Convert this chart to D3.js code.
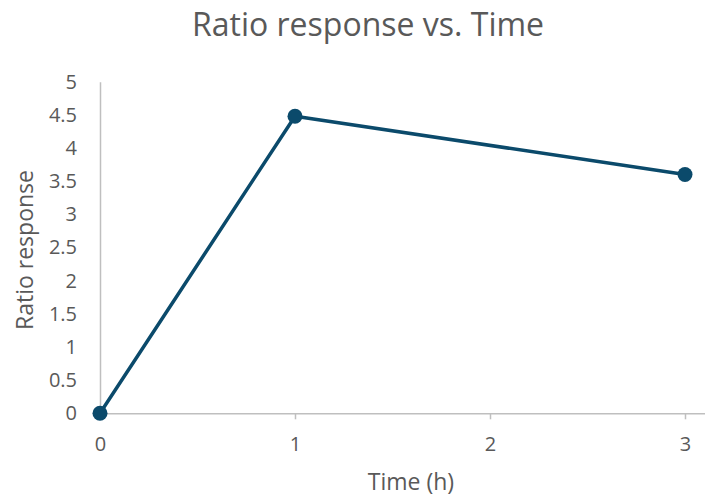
<!DOCTYPE html>
<html>
<head>
<meta charset="utf-8">
<script src="https://cdn.jsdelivr.net/npm/d3@7"></script>
<style>
  body { margin: 0; background: #fff; }
  text { font-family: "Open Sans", sans-serif; fill: #595959; }
</style>
</head>
<body>
<script>
(function() {

  // data
  var times = [0, 1, 3];
  var ratios = [0, 4.48, 3.6];
  var xTicks = [0, 1, 2, 3];
  var yTicks = [0, 0.5, 1, 1.5, 2, 2.5, 3, 3.5, 4, 4.5, 5];

  var width = 705;
  var height = 496;
  var lineColor = '#0b4a6b';
  var axisColor = '#bfbfbf';

  var svg = d3.select('body')
    .append('svg')
      .attr('width', width)
      .attr('height', height);

  var x = d3.scaleLinear().domain([0, 3.1]).range([100, 704.5]);
  var y = d3.scaleLinear().domain([0, 5]).range([413.3, 81.7]);

  // title
  svg.append('text')
    .attr('x', 368)
    .attr('y', 36)
    .attr('text-anchor', 'middle')
    .style('font-size', '32px')
    .text('Ratio response vs. Time');

  // y axis: line + labels, no tick marks
  var yAxis = svg.append('g')
    .attr('transform', 'translate(' + x(0) + ',0)')
    .call(d3.axisLeft(y).tickValues(yTicks).tickSize(0).tickPadding(23)
      .tickFormat(d3.format('')));
  yAxis.select('.domain').attr('stroke', axisColor).attr('stroke-width', 1.5);
  yAxis.selectAll('text').style('font-size', '20px').attr('fill', '#595959');

  // x axis with small tick marks below
  var xAxis = svg.append('g')
    .attr('transform', 'translate(0,' + y(0) + ')')
    .call(d3.axisBottom(x).tickValues(xTicks).tickSize(6).tickSizeOuter(0).tickPadding(18)
      .tickFormat(d3.format('d')));
  xAxis.select('.domain').attr('stroke', axisColor).attr('stroke-width', 1.5);
  xAxis.selectAll('.tick line').attr('stroke', axisColor).attr('stroke-width', 1.5);
  xAxis.selectAll('text').style('font-size', '20px').attr('fill', '#595959');

  // axis titles
  svg.append('text')
    .attr('x', 411)
    .attr('y', 490)
    .attr('text-anchor', 'middle')
    .style('font-size', '23px')
    .text('Time (h)');

  svg.append('text')
    .attr('transform', 'translate(33,250) rotate(-90)')
    .attr('text-anchor', 'middle')
    .style('font-size', '23px')
    .text('Ratio response');

  // series
  var points = times.map(function(t, i) { return [t, ratios[i]]; });

  svg.append('path')
    .datum(points)
    .attr('fill', 'none')
    .attr('stroke', lineColor)
    .attr('stroke-width', 3.5)
    .attr('stroke-linejoin', 'round')
    .attr('d', d3.line().x(d => x(d[0])).y(d => y(d[1])));

  svg.selectAll('circle.pt')
    .data(points)
    .enter()
    .append('circle')
      .attr('class', 'pt')
      .attr('cx', d => x(d[0]))
      .attr('cy', d => y(d[1]))
      .attr('r', 7.5)
      .attr('fill', lineColor);

})();
</script>
</body>
</html>
